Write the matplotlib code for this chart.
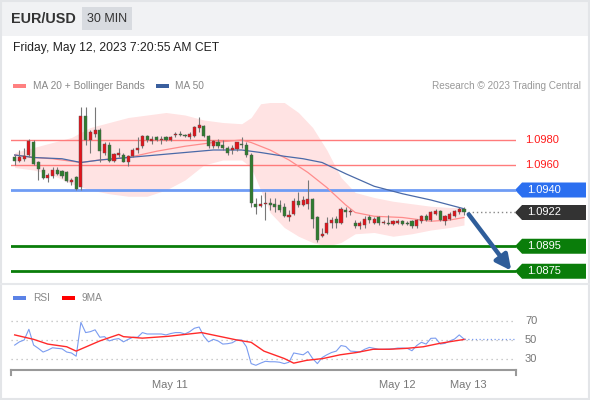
import numpy as np
import matplotlib.pyplot as plt
import matplotlib.transforms as mtransforms
from matplotlib.patches import Rectangle, Polygon

plt.rcParams['font.family'] = ['Liberation Sans', 'DejaVu Sans']

# 30 min candles
opens = [1.0966, 1.0963, 1.0965, 1.0968, 1.0978, 1.0962, 1.0956, 1.0950, 1.0951, 1.0956,
         1.0955, 1.0954, 1.0946, 1.0950, 1.0942, 1.0999, 1.0980, 1.0985, 1.0988, 1.0970,
         1.0976, 1.0963, 1.0968, 1.0968, 1.0962, 1.0967, 1.0972, 1.0975, 1.0983, 1.0979,
         1.0982, 1.0980, 1.0982, 1.0980, 1.0984, 1.0985, 1.0984, 1.0982, 1.0983, 1.0990,
         1.0991, 1.0983, 1.0975, 1.0978, 1.0976, 1.0974, 1.0972, 1.0973, 1.0977, 1.0976,
         1.0968, 1.0929, 1.0927, 1.0929, 1.0930, 1.0929, 1.0928, 1.0926, 1.0918, 1.0921,
         1.0931, 1.0928, 1.0929, 1.0933, 1.0918, 1.0903, 1.0906, 1.0914, 1.0917, 1.0914,
         1.0924, 1.0922, 1.0914, 1.0911, 1.0912, 1.0918, 1.0914, 1.0918, 1.0914, 1.0914,
         1.0913, 1.0914, 1.0915, 1.0914, 1.0915, 1.0911, 1.0915, 1.0919, 1.0916, 1.0921,
         1.0923, 1.0915, 1.0917, 1.0919, 1.0922, 1.0925]
highs = [1.0968, 1.0972, 1.0974, 1.0981, 1.0980, 1.0963, 1.0958, 1.0954, 1.0958, 1.0958,
         1.0956, 1.0955, 1.0950, 1.0951, 1.1006, 1.1006, 1.0988, 1.1006, 1.0990, 1.0978,
         1.0978, 1.0970, 1.0974, 1.0970, 1.0968, 1.0974, 1.0982, 1.0984, 1.0984, 1.0983,
         1.0983, 1.0983, 1.0983, 1.0983, 1.0986, 1.0987, 1.0985, 1.0986, 1.0991, 1.0998,
         1.0992, 1.0984, 1.0980, 1.0981, 1.0980, 1.0975, 1.0976, 1.0978, 1.0982, 1.0978,
         1.0970, 1.0934, 1.0936, 1.0938, 1.0934, 1.0934, 1.0932, 1.0930, 1.0924, 1.0934,
         1.0938, 1.0935, 1.0948, 1.0934, 1.0919, 1.0910, 1.0918, 1.0918, 1.0919, 1.0926,
         1.0926, 1.0925, 1.0916, 1.0915, 1.0919, 1.0920, 1.0918, 1.0919, 1.0916, 1.0920,
         1.0916, 1.0917, 1.0916, 1.0915, 1.0916, 1.0917, 1.0920, 1.0921, 1.0923, 1.0925,
         1.0924, 1.0920, 1.0922, 1.0924, 1.0926, 1.0926]
lows = [1.0960, 1.0962, 1.0963, 1.0966, 1.0960, 1.0948, 1.0949, 1.0946, 1.0950, 1.0952,
        1.0950, 1.0946, 1.0944, 1.0940, 1.0940, 1.0976, 1.0970, 1.0982, 1.0962, 1.0968,
        1.0962, 1.0962, 1.0966, 1.0962, 1.0959, 1.0966, 1.0970, 1.0974, 1.0978, 1.0977,
        1.0979, 1.0977, 1.0979, 1.0979, 1.0982, 1.0983, 1.0982, 1.0981, 1.0982, 1.0986,
        1.0982, 1.0974, 1.0974, 1.0974, 1.0972, 1.0968, 1.0969, 1.0971, 1.0974, 1.0966,
        1.0926, 1.0921, 1.0926, 1.0916, 1.0924, 1.0922, 1.0922, 1.0918, 1.0915, 1.0920,
        1.0926, 1.0927, 1.0925, 1.0910, 1.0898, 1.0902, 1.0905, 1.0910, 1.0910, 1.0913,
        1.0918, 1.0920, 1.0910, 1.0909, 1.0910, 1.0914, 1.0913, 1.0912, 1.0913, 1.0912,
        1.0912, 1.0913, 1.0912, 1.0912, 1.0910, 1.0910, 1.0914, 1.0915, 1.0915, 1.0920,
        1.0915, 1.0912, 1.0916, 1.0918, 1.0921, 1.0920]
closes = [1.0963, 1.0966, 1.0967, 1.0979, 1.0961, 1.0957, 1.0950, 1.0952, 1.0956, 1.0953,
          1.0951, 1.0947, 1.0948, 1.0941, 1.0999, 1.0980, 1.0986, 1.0988, 1.0971, 1.0977,
          1.0963, 1.0969, 1.0970, 1.0962, 1.0967, 1.0972, 1.0974, 1.0983, 1.0980, 1.0981,
          1.0980, 1.0981, 1.0980, 1.0982, 1.0985, 1.0984, 1.0983, 1.0985, 1.0990, 1.0992,
          1.0983, 1.0975, 1.0979, 1.0975, 1.0974, 1.0970, 1.0974, 1.0978, 1.0976, 1.0968,
          1.0930, 1.0926, 1.0929, 1.0930, 1.0928, 1.0926, 1.0924, 1.0919, 1.0920, 1.0931,
          1.0928, 1.0932, 1.0933, 1.0917, 1.0900, 1.0905, 1.0914, 1.0916, 1.0914, 1.0925,
          1.0922, 1.0923, 1.0911, 1.0914, 1.0917, 1.0916, 1.0917, 1.0914, 1.0914, 1.0913,
          1.0915, 1.0915, 1.0913, 1.0913, 1.0911, 1.0916, 1.0919, 1.0916, 1.0922, 1.0923,
          1.0916, 1.0919, 1.0921, 1.0923, 1.0925, 1.0922]

# bollinger band edges sampled at candle indices
bb_idx = [0, 4, 8, 12, 16, 20, 24, 28, 32, 36, 40, 44, 48, 50, 52, 54, 57, 60, 63, 66,
          69, 72, 76, 80, 84, 88, 92, 95]
bb_upper = [1.0970, 1.0974, 1.0978, 1.0982, 1.0990, 1.0994, 1.0998, 1.1000, 1.1002, 1.1000,
            1.0996, 1.0994, 1.0993, 1.0998, 1.1009, 1.1010, 1.1010, 1.1002, 1.0990, 1.0972,
            1.0950, 1.0938, 1.0934, 1.0931, 1.0929, 1.0927, 1.0926, 1.0926]
bb_lower = [1.0958, 1.0956, 1.0952, 1.0945, 1.0940, 1.0937, 1.0935, 1.0935, 1.0940, 1.0948,
            1.0960, 1.0964, 1.0964, 1.0958, 1.0940, 1.0922, 1.0910, 1.0903, 1.0898, 1.0895,
            1.0898, 1.0905, 1.0906, 1.0903, 1.0905, 1.0908, 1.0910, 1.0912]

ma20_idx = [0, 4, 8, 12, 14, 18, 24, 30, 36, 42, 48, 50, 54, 58, 62, 66, 70, 72, 76, 82, 88, 92, 95]
ma20 = [1.0968, 1.0966, 1.0965, 1.0963, 1.0962, 1.0964, 1.0966, 1.0971, 1.0975, 1.0978,
        1.0980, 1.0978, 1.0972, 1.0964, 1.0954, 1.0942, 1.0928, 1.0922, 1.0919, 1.0918,
        1.0915, 1.0916, 1.0918]
ma50_idx = [0, 4, 10, 14, 18, 24, 30, 36, 42, 48, 52, 57, 61, 65, 70, 76, 82, 88, 92, 95]
ma50 = [1.0968, 1.0966, 1.0965, 1.0962, 1.0964, 1.0966, 1.0968, 1.0970, 1.0972, 1.0972,
        1.0970, 1.0967, 1.0965, 1.0962, 1.0953, 1.0943, 1.0937, 1.0932, 1.0928, 1.0925]

levels_red = [1.0980, 1.0960]
pivot = 1.0940
last_price = 1.0922
supports = [1.0895, 1.0875]

rsi = [44.5, 48, 50, 61.6, 44.5, 41, 37, 39, 41.6, 41, 40.5, 37, 36, 32.5, 69, 58, 59, 61,
       53, 53.6, 49, 50.7, 51.5, 48, 50.7, 53, 53, 58, 56.5, 56.5, 56.5, 56.5, 55.5, 57, 58,
       58, 56.5, 59, 62.7, 64, 54, 48, 50.7, 49, 45.6, 46, 47, 50, 50, 42.7, 24.5, 22.7, 25,
       27, 26.5, 26.5, 26, 24.5, 26, 36, 35, 34, 37.6, 30, 24.5, 31, 34, 36.5, 38, 44, 43,
       38, 37.6, 37, 40, 42, 41, 40, 40, 40.2, 40.5, 41.3, 41.3, 41, 38.4, 44, 47.5, 45.6,
       51.8, 52, 45.6, 46.4, 49, 51, 55.5, 51]
ma9_idx = [0, 4, 7, 11, 13, 18, 22, 23, 27, 32.5, 39.5, 47, 50, 52.7, 57, 59, 61.7, 65.2,
           68.8, 72.3, 75.8, 79.3, 82.9, 86.4, 89.9, 93.4, 95.2]
ma9 = [55.5, 50.7, 45.6, 42.7, 38, 49, 56, 53.6, 52, 54, 58, 50, 47.5, 38, 30, 25, 28, 30,
       34, 36.5, 40, 40, 41, 42.7, 46.4, 49.3, 50.7]

day_ticks = [32.8, 81, 96]
day_labels = ['May 11', 'May 12', 'May 13']

fig = plt.figure(figsize=(5.9, 4.0), dpi=100)
W, H = 590, 400

def frac(x0, y0, x1, y1):
    return [x0 / W, 1 - y1 / H, (x1 - x0) / W, (y1 - y0) / H]

# background / header in pixel coords
bg = fig.add_axes([0, 0, 1, 1])
bg.set_xlim(0, W)
bg.set_ylim(H, 0)
bg.axis('off')
bg.add_patch(Rectangle((0, 0), W, 36, color='#f1f2f4', lw=0))
bg.add_patch(Rectangle((0.5, 0.5), W - 1.5, H - 1.5, fill=False, ec='#e3e5e8', lw=1.5))
bg.add_patch(Rectangle((82, 7), 50, 23, color='#d8dbe0', lw=0))
bg.text(11, 19, 'EUR/USD', fontsize=10.4, fontweight='bold', color='#333333', va='center')
bg.text(107, 19, '30 MIN', fontsize=9, color='#333333', va='center', ha='center')
bg.text(13, 48, 'Friday, May 12, 2023 7:20:55 AM CET', fontsize=8.7, color='#222222', va='center')
bg.add_patch(Rectangle((13, 84), 13, 4, color='#ff8080', lw=0))
bg.text(33, 86, 'MA 20 + Bollinger Bands', fontsize=7.3, color='#888888', va='center')
bg.add_patch(Rectangle((156, 84), 13, 4, color='#3a5f9e', lw=0))
bg.text(175, 86, 'MA 50', fontsize=7.3, color='#888888', va='center')
bg.text(581, 86, 'Research \u00a9 2023 Trading Central', fontsize=7.2, color='#999999',
        va='center', ha='right')
bg.plot([1, 589], [284, 284], color='#e6e8eb', lw=1.5)
bg.add_patch(Rectangle((13, 296), 13, 4, color='#5b82e6', lw=0))
bg.text(33, 298, 'RSI', fontsize=7.3, color='#888888', va='center')
bg.add_patch(Rectangle((62, 296), 13, 4, color='#ff0000', lw=0))
bg.text(82, 298, '9MA', fontsize=7.3, color='#888888', va='center')

# main price panel
ax = fig.add_axes(frac(11, 95, 516, 283))
ax.set_facecolor('none')
ax.set_xlim(-0.78, 106)
ax.set_ylim(1.08656, 1.1016)
ax.axis('off')

ax.fill_between(bb_idx, bb_lower, bb_upper, color='#ffe3e3', lw=0, zorder=1)
ax.plot(ma20_idx, ma20, color='#ff8c8c', lw=0.9, zorder=3)
ax.plot(ma50_idx, ma50, color='#4a6aa8', lw=0.9, zorder=3)

for lv in levels_red:
    ax.axhline(lv, color='#ff7b7b', lw=1, zorder=2)
ax.axhline(pivot, color='#6f9cf4', lw=2, zorder=2)
for lv in supports:
    ax.axhline(lv, color='#0a7d0a', lw=2, zorder=2)

x = np.arange(len(opens))
o = np.array(opens); c = np.array(closes)
up = c >= o
cols = np.where(up, '#e3141b', '#2f7d2f')
ax.vlines(x, lows, highs, color='#777777', lw=0.8, zorder=4)
body = np.maximum(np.abs(c - o), 0.00005)
ax.bar(x, body, bottom=np.minimum(o, c), width=0.66, color=cols,
       edgecolor='#555555', lw=0.3, zorder=5)

ax.plot([x[-1] + 0.8, 106], [last_price, last_price], color='#888888', lw=1,
        ls=(0, (1, 2)), zorder=3)

ax.annotate('', xy=(105.0, 1.08755), xytext=(96.0, 1.09205),
            arrowprops=dict(arrowstyle='-|>,head_width=0.45,head_length=0.9',
                            color='#2f5d9a', lw=3.2, shrinkA=0, shrinkB=0),
            annotation_clip=False, zorder=6)

tr = mtransforms.blended_transform_factory(ax.transAxes, ax.transData)
for lv in levels_red:
    ax.text(1.0178, lv, f'{lv:.4f}', transform=tr, color='#ff1a1a', fontsize=8,
            va='center', clip_on=False)

def tag(y, fc):
    h = 0.0006
    pts = [(0.998, y), (1.012, y + h), (1.1386, y + h), (1.1386, y - h), (1.012, y - h)]
    ax.add_patch(Polygon(pts, closed=True, transform=tr, fc=fc, ec='none', clip_on=False))
    ax.text(1.0218, y, f'{y:.4f}', transform=tr, color='white', fontsize=8,
            va='center', clip_on=False)

tag(pivot, '#2b6ff0')
tag(last_price, '#333333')
for lv in supports:
    tag(lv, '#0a7d0a')

# RSI panel
ax2 = fig.add_axes(frac(11, 305, 516, 370))
ax2.set_facecolor('none')
ax2.set_xlim(-0.78, 106)
ax2.set_ylim(17.6, 87.8)
for s in ['top', 'left', 'right']:
    ax2.spines[s].set_visible(False)
ax2.spines['bottom'].set_color('#999999')
ax2.spines['bottom'].set_linewidth(1.5)
for lv in [30, 50, 70]:
    ax2.axhline(lv, color='#bbbbbb', lw=0.9, ls=(0, (1, 3)))
ax2.plot(np.arange(len(rsi)), rsi, color='#7b9cf0', lw=0.8)
ax2.plot(ma9_idx, ma9, color='#ff2a2a', lw=1)
ax2.plot([len(rsi) - 1, 106], [rsi[-1], rsi[-1]], color='#7b9cf0', lw=0.9, ls=(0, (1, 2)))
ax2.set_yticks([])
ax2.set_xticks(day_ticks)
ax2.set_xticklabels(day_labels, fontsize=8, color='#777777')
ax2.tick_params(axis='x', length=0, pad=7)
ax2.plot([-0.78, -0.78], [17.6, 12], color='#999999', lw=1.5, clip_on=False)
ax2.plot([106, 106], [17.6, 12], color='#999999', lw=1.5, clip_on=False)
trr = mtransforms.blended_transform_factory(ax2.transAxes, ax2.transData)
for lv in [70, 50, 30]:
    ax2.text(1.0178, lv, str(lv), transform=trr, fontsize=8, color='#777777',
             va='center', clip_on=False)

fig.savefig('out.png', dpi=100)
